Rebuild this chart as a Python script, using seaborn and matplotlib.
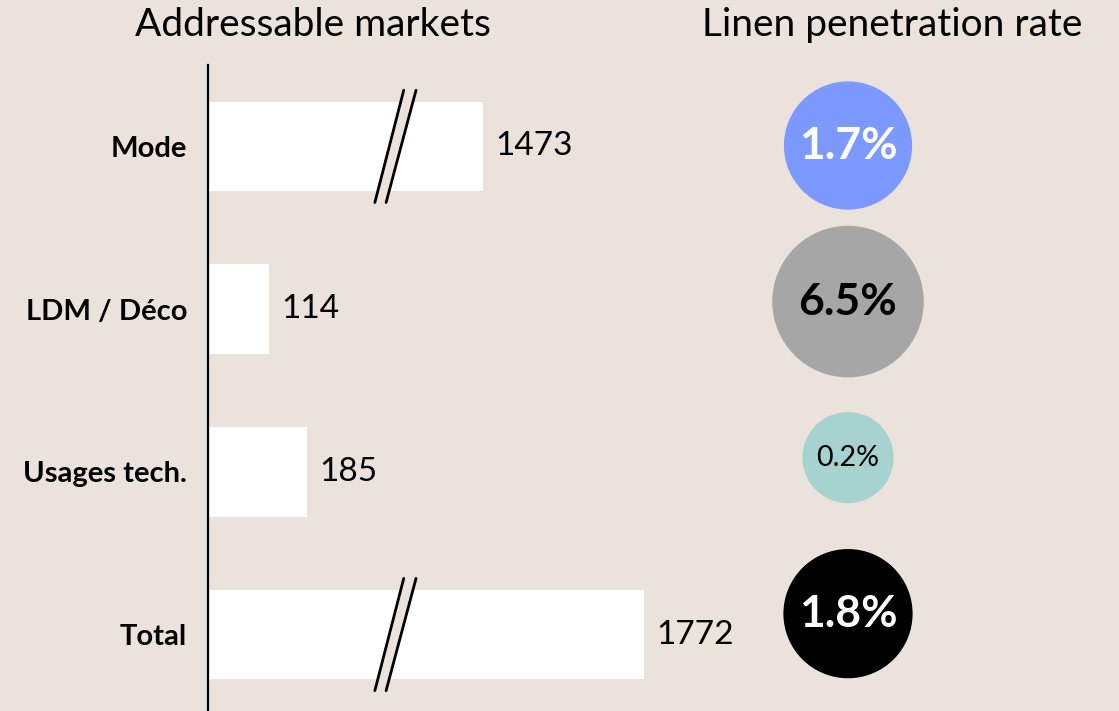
import numpy as np
import pandas as pd
import matplotlib
matplotlib.use('Agg')
import matplotlib.pyplot as plt
import seaborn as sns
from matplotlib.patches import Polygon

# data
categories = ['Mode', 'LDM / Déco', 'Usages tech.', 'Total']
market_values = [1473, 114, 185, 1772]
# length actually drawn (Mode and Total are cut by an axis break)
shown_length = [514, 114, 185, 815]
is_broken = [True, False, False, True]
penetration = [1.7, 6.5, 0.2, 1.8]
rate_labels = ['1.7%', '6.5%', '0.2%', '1.8%']

BG = '#EBE2DC'
circle_colors = ['#7B99FF', '#A6A6A6', '#A6D2CF', '#000000']
text_colors = ['white', 'black', 'black', 'white']
text_weights = ['bold', 'bold', 'normal', 'bold']
text_sizes = [32, 32, 20.5, 32]

sns.set_style('white', rc={'axes.facecolor': BG, 'figure.facecolor': BG,
                           'text.color': 'black', 'ytick.color': 'black'})
plt.rcParams['font.family'] = ['Lato', 'DejaVu Sans']

df = pd.DataFrame({'cat': categories, 'value': market_values,
                   'shown': shown_length, 'rate': penetration})
df['pos'] = np.arange(len(df))

W, H = 1119, 711
fig = plt.figure(figsize=(W / 100, H / 100), dpi=100)

# left: addressable markets bars
ax = fig.add_axes([208 / W, 0, 492 / W, (711 - 65) / H])
sns.barplot(data=df, x='shown', y='cat', color='white', saturation=1,
            width=0.55, orient='h', ax=ax, linewidth=0)
ax.set_xlim(0, 920)
ax.set_ylim(3.47, -0.5)
ax.set_xlabel('')
ax.set_ylabel('')
ax.set_xticks([])
ax.tick_params(axis='y', length=0, pad=15, labelsize=21, labelcolor='black')
for lab in ax.get_yticklabels():
    lab.set_fontweight('bold')
for s in ['top', 'right', 'bottom']:
    ax.spines[s].set_visible(False)
ax.spines['left'].set_color('black')
ax.spines['left'].set_linewidth(1.6)

for i, row in df.iterrows():
    ax.text(row['shown'] + 23, i, str(row['value']), va='center', ha='left',
            fontsize=24, color='black')
    if is_broken[i]:
        h = 0.345
        x1b, x1t, x2b, x2t = 312, 366, 333, 389
        ax.add_patch(Polygon([(x1b, i + h), (x1t, i - h), (x2t, i - h), (x2b, i + h)],
                             closed=True, facecolor=BG, edgecolor='none', zorder=3))
        ax.plot([x1b, x1t], [i + h, i - h], color='black', lw=2, zorder=4)
        ax.plot([x2b, x2t], [i + h, i - h], color='black', lw=2, zorder=4)

# right: linen penetration circles
axr = fig.add_axes([760 / W, (711 - 687) / H, 176 / W, (687 - 67.5) / H])
radius_px = 59.5 + 20 * np.log10(df['rate'])
size_map = {c: (2 * r * 0.72) ** 2 for c, r in zip(categories, radius_px)}
df['x0'] = 0
sns.scatterplot(data=df, x='x0', y='pos', hue='cat', palette=circle_colors,
                size='cat', sizes=size_map, legend=False, linewidth=0, ax=axr)
for i in range(len(df)):
    axr.text(0, i, rate_labels[i], ha='center', va='center', color=text_colors[i],
             fontweight=text_weights[i], fontsize=text_sizes[i])
axr.set_xlim(-1, 1)
axr.set_ylim(3.47, -0.5)
axr.axis('off')

fig.text(313 / W, 1 - 25 / H, 'Addressable markets', ha='center', va='center',
         fontsize=28, color='black')
fig.text(892 / W, 1 - 25 / H, 'Linen penetration rate', ha='center', va='center',
         fontsize=28, color='black')

fig.savefig('out.png', dpi=100, facecolor=BG)
